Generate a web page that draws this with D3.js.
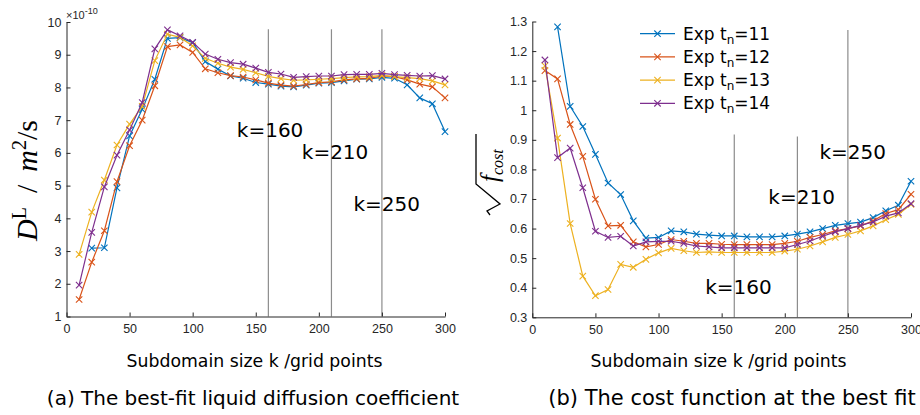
<!DOCTYPE html>
<html>
<head>
<meta charset="utf-8">
<script src="https://cdn.jsdelivr.net/npm/d3@7/dist/d3.min.js"></script>
<style>
  html, body { margin: 0; padding: 0; background: #fff; }
  svg { display: block; }
</style>
</head>
<body>
<svg id="fig" width="920" height="415"></svg>
<script>
// Subdomain sizes (grid points)
const kSizes = [10,20,30,40,50,60,70,80,90,100,110,120,130,140,150,160,170,180,190,200,210,220,230,240,250,260,270,280,290,300];

// Series names
const seriesNames = ["11", "12", "13", "14"];
const seriesColors = ["#0072BD", "#D95319", "#EDB120", "#7E2F8E"];

// (a) best-fit liquid diffusion coefficient, units of 1e-10 m^2/s
const diffTn11 = [null,3.09,3.10,4.93,6.52,7.33,8.25,9.50,9.52,9.37,8.79,8.56,8.35,8.28,8.15,8.10,8.04,8.02,8.07,8.13,8.15,8.20,8.25,8.26,8.31,8.28,8.08,7.68,7.50,6.65];
const diffTn12 = [1.52,2.66,3.62,5.12,6.22,7.00,8.05,9.25,9.30,9.07,8.57,8.45,8.36,8.32,8.23,8.13,8.07,8.04,8.09,8.15,8.17,8.23,8.26,8.28,8.35,8.33,8.23,8.10,8.02,7.68];
const diffTn13 = [2.90,4.19,5.17,6.24,6.88,7.42,8.82,9.63,9.53,9.27,8.89,8.74,8.62,8.55,8.45,8.34,8.27,8.22,8.23,8.25,8.27,8.30,8.32,8.33,8.37,8.33,8.30,8.27,8.20,8.08];
const diffTn14 = [1.96,3.57,4.96,5.93,6.70,7.54,9.18,9.76,9.58,9.38,9.02,8.86,8.76,8.71,8.59,8.46,8.41,8.31,8.33,8.35,8.35,8.39,8.40,8.40,8.43,8.39,8.37,8.35,8.36,8.26];

// (b) square root of the cost function at the best fit
const costTn11 = [null,1.282,1.013,0.945,0.851,0.754,0.715,0.626,0.568,0.570,0.592,0.589,0.581,0.578,0.575,0.575,0.572,0.572,0.572,0.575,0.581,0.589,0.600,0.611,0.617,0.622,0.637,0.660,0.679,0.760];
const costTn12 = [1.134,1.106,0.952,0.844,0.699,0.609,0.611,0.555,0.538,0.546,0.563,0.557,0.550,0.550,0.547,0.546,0.546,0.546,0.546,0.550,0.557,0.570,0.580,0.592,0.600,0.609,0.626,0.651,0.664,0.716];
const costTn13 = [1.150,0.906,0.617,0.439,0.373,0.394,0.479,0.469,0.496,0.518,0.533,0.525,0.519,0.521,0.519,0.519,0.519,0.519,0.519,0.524,0.530,0.541,0.555,0.570,0.580,0.592,0.609,0.630,0.648,0.682];
const costTn14 = [1.170,0.840,0.872,0.738,0.591,0.570,0.574,0.541,0.555,0.557,0.557,0.550,0.541,0.538,0.535,0.535,0.535,0.535,0.535,0.535,0.546,0.558,0.574,0.589,0.600,0.611,0.622,0.642,0.653,0.684];

// Axis ticks
const xTicks = [0,50,100,150,200,250,300];
const diffTicks = [1,2,3,4,5,6,7,8,9,10];
const costTicks = [0.3,0.4,0.5,0.6,0.7,0.8,0.9,1.0,1.1,1.2,1.3];

// Marked subdomain sizes: [k, lower y, upper y]
const diffMarks = [[160, 1, 9.78], [210, 1, 9.78], [250, 1, 9.78]];
const costMarks = [[160, 0.3, 0.918], [210, 0.3, 0.911], [250, 0.3, 1.271]];

// Annotations: [text, k, y]
const diffNotes = [["k=160", 135, 6.7], ["k=210", 186.5, 6.02], ["k=250", 227.5, 4.45]];
const costNotes = [["k=250", 227.5, 0.858], ["k=210", 187, 0.707], ["k=160", 137, 0.403]];

const svg = d3.select("#fig");
const axisColor = "#262626";
const tickFont = "'Liberation Sans', Arial, sans-serif";
const textFont = "'DejaVu Sans', sans-serif";

function panel(opts) {
  const x = d3.scaleLinear().domain([0, 300]).range(opts.xRange);
  const y = d3.scaleLinear().domain(opts.yDomain).range(opts.yRange);
  const g = svg.append("g");

  // reference lines at chosen k
  g.selectAll("line.kmark").data(opts.marks).join("line")
    .attr("class", "kmark")
    .attr("x1", d => x(d[0])).attr("x2", d => x(d[0]))
    .attr("y1", d => y(d[1])).attr("y2", d => y(d[2]))
    .attr("stroke", "#8c8c8c").attr("stroke-width", 1.2);

  // axes
  const xAxis = d3.axisBottom(x).tickValues(xTicks).tickSizeInner(-4).tickSizeOuter(0).tickPadding(8);
  const yAxis = d3.axisLeft(y).tickValues(opts.yTicks).tickSizeInner(-4).tickSizeOuter(0).tickPadding(5)
    .tickFormat(opts.yFormat);
  const ax = g.append("g").attr("transform", `translate(0,${opts.yRange[0]})`).call(xAxis);
  const ay = g.append("g").attr("transform", `translate(${opts.xRange[0]},0)`).call(yAxis);
  [ax, ay].forEach(a => {
    a.select(".domain").attr("stroke", axisColor).attr("stroke-width", 1);
    a.selectAll(".tick line").attr("stroke", axisColor).attr("stroke-width", 1);
    a.selectAll(".tick text").attr("fill", axisColor).attr("font-size", 12.5).attr("font-family", tickFont);
  });

  // series lines and x markers
  const line = d3.line().defined(d => d[1] !== null).x(d => x(d[0])).y(d => y(d[1]));
  opts.series.forEach((vals, i) => {
    const pts = kSizes.map((k, j) => [k, vals[j]]);
    const col = seriesColors[i];
    g.append("path").datum(pts).attr("d", line)
      .attr("fill", "none").attr("stroke", col).attr("stroke-width", 1.2);
    g.selectAll(null).data(pts.filter(d => d[1] !== null)).join("path")
      .attr("transform", d => `translate(${x(d[0])},${y(d[1])})`)
      .attr("d", "M-3.2,-3.2L3.2,3.2M-3.2,3.2L3.2,-3.2")
      .attr("stroke", col).attr("stroke-width", 1.1).attr("fill", "none");
  });

  // k annotations
  g.selectAll("text.note").data(opts.notes).join("text")
    .attr("class", "note")
    .attr("x", d => x(d[1])).attr("y", d => y(d[2]))
    .attr("dy", "0.36em")
    .attr("font-family", textFont).attr("font-size", 20)
    .attr("fill", "#000")
    .text(d => d[0]);

  // x axis title
  g.append("text")
    .attr("x", opts.titleX)
    .attr("y", 366.5)
    .attr("text-anchor", "middle")
    .attr("font-family", textFont).attr("font-size", 17.3)
    .attr("fill", "#000")
    .text("Subdomain size k /grid points");

  // caption
  g.append("text")
    .attr("x", opts.captionX).attr("y", 405)
    .attr("text-anchor", "middle")
    .attr("font-family", textFont).attr("font-size", opts.captionSize)
    .attr("fill", "#000")
    .text(opts.caption);

  return { x, y, g };
}

panel({
  xRange: [66.5, 445], yRange: [316.5, 22], yDomain: [1, 10],
  yTicks: diffTicks, yFormat: d3.format("d"),
  series: [diffTn11, diffTn12, diffTn13, diffTn14],
  marks: diffMarks, notes: diffNotes, titleX: 254.5,
  captionX: 253, captionSize: 20, caption: "(a) The best-fit liquid diffusion coefficient"
});

panel({
  xRange: [532.3, 911], yRange: [317.3, 21.5], yDomain: [0.3, 1.3],
  yTicks: costTicks, yFormat: d => (d === 1 ? "1" : d3.format(".1f")(d)),
  series: [costTn11, costTn12, costTn13, costTn14],
  marks: costMarks, notes: costNotes, titleX: 718.5,
  captionX: 732, captionSize: 21, caption: "(b) The cost function at the best fit"
});

// exponent multiplier of the left y axis
const expo = svg.append("text").attr("x", 66).attr("y", 18.5)
  .attr("font-family", tickFont).attr("font-size", 11).attr("fill", axisColor);
expo.append("tspan").text("\u00d710");
expo.append("tspan").attr("dy", -5).attr("font-size", 9).text("-10");

// left y axis label: D^L / m^2/s
const serif = "'Liberation Serif', 'DejaVu Serif', serif";
const yl = svg.append("text")
  .attr("transform", "translate(37,241) rotate(-90)")
  .attr("text-anchor", "start")
  .attr("font-family", serif).attr("font-size", 30).attr("fill", "#000");
yl.append("tspan").attr("font-style", "italic").text("D");
yl.append("tspan").attr("dy", -11).attr("font-size", 20).text("L");
yl.append("tspan").attr("dy", 11).attr("dx", 14).text("/");
yl.append("tspan").attr("dx", 13).attr("font-style", "italic").text("m");
yl.append("tspan").attr("dy", -11).attr("font-size", 20).text("2");
yl.append("tspan").attr("dy", 11).text("/s");

// right y axis label: sqrt(f_cost)
const rl = svg.append("g").attr("transform", "translate(490,175) rotate(-90)");
rl.append("path")
  .attr("d", "M-40,0L-36,-3L-29,10L-9,-14L41,-14")
  .attr("fill", "none").attr("stroke", "#000").attr("stroke-width", 1.3);
const rt = rl.append("text").attr("x", -7).attr("y", 8)
  .attr("font-family", serif).attr("font-style", "italic").attr("font-size", 25).attr("fill", "#000");
rt.append("tspan").text("f");
rt.append("tspan").attr("dy", 5).attr("font-size", 16).text("cost");

// legend
const legend = svg.append("g");
seriesNames.forEach((name, i) => {
  const yy = 33.7 + i * 23.2;
  const col = seriesColors[i];
  legend.append("line").attr("x1", 640).attr("x2", 675).attr("y1", yy).attr("y2", yy)
    .attr("stroke", col).attr("stroke-width", 1.2);
  legend.append("path").attr("transform", `translate(657.5,${yy})`)
    .attr("d", "M-3.2,-3.2L3.2,3.2M-3.2,3.2L3.2,-3.2")
    .attr("stroke", col).attr("stroke-width", 1.1);
  const t = legend.append("text").attr("x", 683).attr("y", yy).attr("dy", "0.36em")
    .attr("font-family", textFont).attr("font-size", 17).attr("fill", "#000");
  t.append("tspan").text("Exp t");
  t.append("tspan").attr("dy", 4).attr("font-size", 12).text("n");
  t.append("tspan").attr("dy", -4).text("=" + name);
});
</script>
</body>
</html>
